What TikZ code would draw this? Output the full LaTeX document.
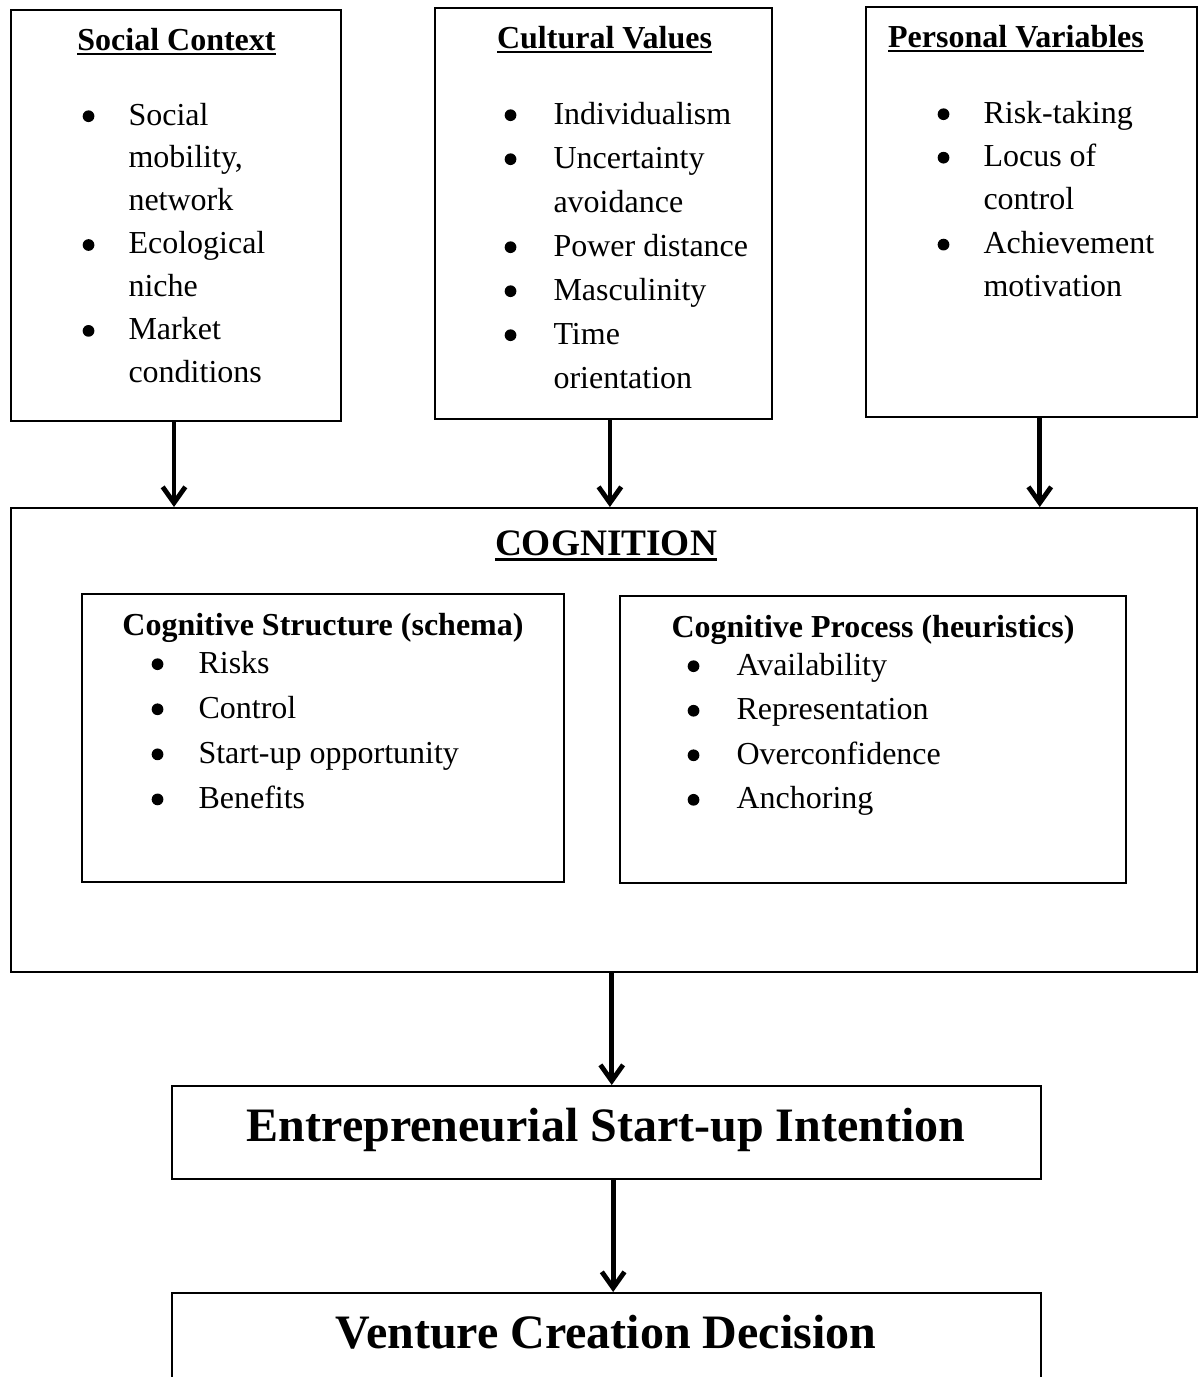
\documentclass[tikz,border=0pt]{standalone}
\usepackage{fontspec}
\setmainfont{Liberation Serif}
\usetikzlibrary{arrows.meta,fit}

% underline set a little below the baseline
\newcommand\ulbox[3]{\setbox0\hbox{#1}\rlap{\rule[-#2]{\wd0}{#3}}\box0}
% round list bullet, centred on the current point
\newcommand\bdot{\begin{pgfpicture}\pgfsetbaseline{0pt}%
  \pgfpathcircle{\pgfpoint{0pt}{3.3pt}}{2.2pt}\pgfusepath{fill}\end{pgfpicture}}
% bullet lists: one line per box, bullet centred in a column of width \bcol
\newlength\bcol
\newcommand\bi[1]{\hbox{\hbox to\bcol{\hss\bdot\hss}#1}}
\newcommand\bc[1]{\hbox{\hbox to\bcol{}#1}}
\newcommand\blist[3]{\vtop{\fontsize{12}{#2}\selectfont\setlength\bcol{#1}#3}}

\tikzset{
  box/.style={draw, line width=0.75pt, inner sep=0pt},
  ttl/.style={inner sep=0pt, anchor=base, font=\bfseries\fontsize{12}{14}\selectfont},
  lst/.style={inner sep=0pt, anchor=base west},
  big/.style={inner sep=0pt, anchor=base, font=\bfseries\fontsize{18}{22}\selectfont},
  arr/.style={line width=1.8pt, -{Straight Barb[length=6pt,width=8.5pt,line width=1.8pt]}},
}

\begin{document}
\begin{tikzpicture}[x=0.375pt, y=-0.375pt]
\useasboundingbox (0,0) rectangle (1198,1377);
\clip (0,0) rectangle (1198,1377);

% --- three input boxes ---
\node[box, fit={(11,10) (341,421)}] (social) {};
\node[box, fit={(435,8) (772,419)}] (culture) {};
\node[box, fit={(866,7) (1196.5,417)}] (personal) {};

\node[ttl] (socialT) at (176.5,50) {\ulbox{Social Context}{2pt}{0.9pt}};
\node[lst] (socialL) at (48,125) {\blist{30pt}{16.1pt}{%
  \bi{Social}\bc{mobility,}\bc{network}%
  \bi{Ecological}\bc{niche}%
  \bi{Market}\bc{conditions}}};

\node[ttl] (cultureT) at (604.5,48) {\ulbox{Cultural Values}{2pt}{0.9pt}};
\node[lst] (cultureL) at (467,124) {\blist{32.25pt}{16.5pt}{%
  \bi{Individualism}%
  \bi{Uncertainty}\bc{avoidance}%
  \bi{Power distance}%
  \bi{Masculinity}%
  \bi{Time}\bc{orientation}}};

\node[ttl] (personalT) at (1016,47) {\ulbox{Personal Variables}{2pt}{0.9pt}};
\node[lst] (personalL) at (903,123) {\blist{30pt}{16.3pt}{%
  \bi{Risk-taking}%
  \bi{Locus of}\bc{control}%
  \bi{Achievement}\bc{motivation}}};

% --- cognition block ---
\node[box, fit={(11,508) (1196.5,972)}] (cog) {};
\node[inner sep=0pt, anchor=base, font=\bfseries\fontsize{14}{17}\selectfont] (cogT) at (606,555)
  {\ulbox{COGNITION}{2.4pt}{1.1pt}};

\node[box, fit={(82,594) (564,882)}] (schema) {};
\node[ttl] (schemaT) at (323,635) {Cognitive Structure (schema)};
\node[lst] (schemaL) at (116,673) {\blist{30.75pt}{16.9pt}{%
  \bi{Risks}%
  \bi{Control}%
  \bi{Start-up opportunity}%
  \bi{Benefits}}};

\node[box, fit={(620,596) (1126,883)}] (heur) {};
\node[ttl] (heurT) at (873,637) {Cognitive Process (heuristics)};
\node[lst] (heurL) at (650,675) {\blist{32.25pt}{16.7pt}{%
  \bi{Availability}%
  \bi{Representation}%
  \bi{Overconfidence}%
  \bi{Anchoring}}};

% --- outcomes ---
\node[box, fit={(172,1086) (1041,1179)}] (intent) {};
\node[big] (intentT) at (606,1141) {Entrepreneurial Start-up Intention};

\node[box, fit={(172,1293) (1041,1420)}] (venture) {};
\node[big] (ventureT) at (606,1348) {Venture Creation Decision};

% --- arrows ---
\draw[arr] ([xshift=-0.75pt]social.south) -- ([xshift=-0.75pt]social.south |- cog.north);
\draw[arr] ([xshift=2.4pt]culture.south) -- ([xshift=2.4pt]culture.south |- cog.north);
\draw[arr] ([xshift=3.2pt]personal.south) -- ([xshift=3.2pt]personal.south |- cog.north);
\draw[arr] ([xshift=3pt]cog.south) -- ([xshift=3pt]cog.south |- intent.north);
\draw[arr] ([xshift=2.5pt]intent.south) -- ([xshift=2.5pt]intent.south |- venture.north);
\end{tikzpicture}
\end{document}
